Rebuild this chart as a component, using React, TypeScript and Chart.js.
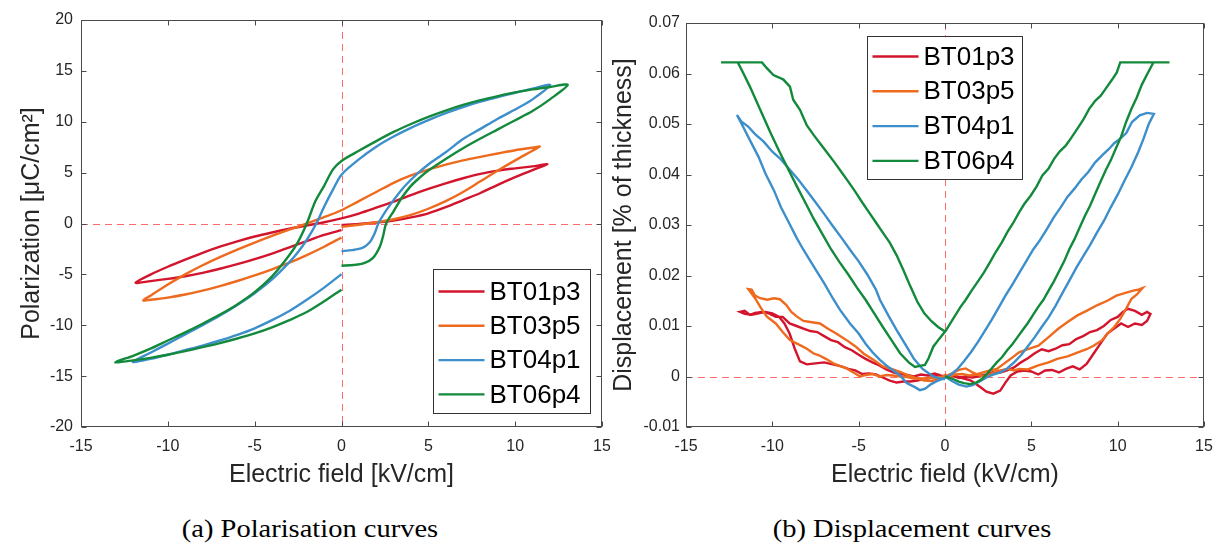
import React, { useEffect, useRef } from 'react';
import { Chart, registerables } from 'chart.js';

Chart.register(...registerables);

// ---------- shared ----------
const seriesNames = ['BT01p3', 'BT03p5', 'BT04p1', 'BT06p4'];
const seriesColors = ['#D2152D', '#EE6A1E', '#3D8FCB', '#138A3B'];
const xTicks = [-15, -10, -5, 0, 5, 10, 15];
const polTicks = [-20, -15, -10, -5, 0, 5, 10, 15, 20];
const dispTicks = [-0.01, 0, 0.01, 0.02, 0.03, 0.04, 0.05, 0.06, 0.07];

const xTitleA = 'Electric field [kV/cm]';
const yTitleA = 'Polarization [μC/cm²]';
const xTitleB = 'Electric field (kV/cm)';
const yTitleB = 'Displacement [% of thickness]';
const captionA = '(a) Polarisation curves';
const captionB = '(b) Displacement curves';

// ---------- (a) polarisation loops: [E kV/cm, P µC/cm²] ----------
const polBT01p3: number[][] = [
  [0, -0.15], [1, -0.05], [2, 0.1], [3, 0.3], [4, 0.6], [5, 1.0], [6, 1.6], [7, 2.3], [8, 3.0], [9, 3.8], [10, 4.55], [11, 5.25], [11.86, 5.82],
  [11, 5.62], [10, 5.42], [9, 5.2], [8, 4.88], [7, 4.45], [6, 3.95], [5, 3.4], [4, 2.8], [3, 2.15], [2, 1.55], [1, 0.98], [0, 0.5],
  [-1, 0.12], [-2, -0.2], [-3, -0.52], [-4, -0.88], [-5, -1.28], [-6, -1.75], [-7, -2.28], [-8, -2.88], [-9, -3.55], [-10, -4.25], [-11, -5.02], [-11.86, -5.82],
  [-11, -5.66], [-10, -5.44], [-9, -5.18], [-8, -4.85], [-7, -4.45], [-6, -4.0], [-5, -3.5], [-4, -2.95], [-3, -2.35], [-2, -1.72], [-1, -1.12], [0, -0.65],
];
const polBT03p5: number[][] = [
  [0, -0.33], [1, -0.12], [2, 0.12], [3, 0.42], [4, 0.85], [5, 1.45], [6, 2.2], [7, 3.1], [8, 4.15], [9, 5.2], [10, 6.2], [11, 7.15], [11.42, 7.56],
  [11, 7.45], [10, 7.2], [9, 6.88], [8, 6.55], [7, 6.2], [6, 5.78], [5, 5.3], [4, 4.72], [3, 4.0], [2, 3.1], [1, 2.2], [0, 1.3],
  [-1, 0.62], [-2, 0.0], [-3, -0.6], [-4, -1.22], [-5, -1.87], [-6, -2.56], [-7, -3.3], [-8, -4.1], [-9, -5.0], [-10, -6.0], [-11, -7.1], [-11.42, -7.56],
  [-11, -7.5], [-10, -7.28], [-9, -6.98], [-8, -6.6], [-7, -6.15], [-6, -5.65], [-5, -5.1], [-4, -4.5], [-3, -3.85], [-2, -3.1], [-1, -2.28], [0, -1.37],
];
const polBT04p1: number[][] = [
  [0, -2.72], [0.6, -2.62], [1.2, -2.4], [1.6, -1.9], [1.9, -1.0], [2.12, 0], [2.5, 1.1], [3.0, 2.3], [3.5, 3.4], [4.0, 4.3], [4.5, 5.1], [5, 5.8], [6, 7.0], [7, 8.3], [8, 9.3], [9, 10.3], [10, 11.2], [11, 12.2], [12.02, 13.6],
  [11, 13.25], [10, 12.85], [9, 12.42], [8, 11.98], [7, 11.45], [6, 10.85], [5, 10.15], [4, 9.4], [3, 8.55], [2, 7.55], [1, 6.3], [0, 4.8],
  [-0.5, 3.3], [-1, 1.65], [-1.45, 0], [-2, -1.6], [-2.5, -2.8], [-3, -3.8], [-4, -5.5], [-5, -6.85], [-6, -8.0], [-7, -9.05], [-8, -10.0], [-9, -10.9], [-10, -11.8], [-11, -12.7], [-12.02, -13.6],
  [-11, -13.3], [-10, -12.9], [-9, -12.45], [-8, -12.0], [-7, -11.5], [-6, -10.95], [-5, -10.3], [-4, -9.5], [-3, -8.6], [-2, -7.5], [-1, -6.3], [0, -4.98],
];
const polBT06p4: number[][] = [
  [0, -4.15], [0.7, -4.08], [1.3, -3.9], [1.8, -3.4], [2.2, -2.3], [2.4, -1.2], [2.57, 0], [3.0, 1.2], [3.5, 2.6], [4, 3.7], [4.5, 4.5], [5, 5.2], [6, 6.35], [7, 7.4], [8, 8.35], [9, 9.25], [10, 10.15], [11, 11.05], [12, 12.2], [13.03, 13.63],
  [12, 13.42], [11, 13.18], [10, 12.88], [9, 12.52], [8, 12.12], [7, 11.65], [6, 11.1], [5, 10.48], [4, 9.78], [3, 9.0], [2, 8.1], [1, 7.15], [0, 6.15],
  [-0.5, 5.3], [-1, 3.7], [-1.5, 2.2], [-2, 0], [-2.5, -1.8], [-3, -3.1], [-4, -5.2], [-5, -6.75], [-6, -7.95], [-7, -8.95], [-8, -9.85], [-9, -10.7], [-10, -11.5], [-11, -12.3], [-12, -13.0], [-13.03, -13.63],
  [-12, -13.45], [-11, -13.2], [-10, -12.9], [-9, -12.55], [-8, -12.15], [-7, -11.75], [-6, -11.3], [-5, -10.8], [-4, -10.2], [-3, -9.5], [-2, -8.7], [-1, -7.65], [0, -6.5],
];

// ---------- (b) displacement butterflies: [E kV/cm, D % of thickness] ----------
const dispBT01p3: number[][] = [
  [0, 0], [0.5, 0.0002], [1.0, -0.0003], [1.5, -0.0008], [2.0, -0.002], [2.4, -0.003], [2.8, -0.0034], [3.2, -0.0028], [3.5, -0.0012], [3.8, 0.0002], [4.2, 0.001], [4.6, 0.0012], [5.0, 0.001], [5.4, 0.0004], [5.8, 0.0012], [6.2, 0.0013], [6.6, 0.0008], [7.0, 0.0015], [7.4, 0.002], [7.8, 0.0014], [8.2, 0.0025], [8.6, 0.0045], [9.0, 0.0065], [9.4, 0.0085], [9.8, 0.0095], [10.2, 0.0105], [10.6, 0.0098], [11.0, 0.0105], [11.4, 0.0102], [11.7, 0.011], [11.9, 0.0124],
  [11.7, 0.0128], [11.4, 0.0122], [11.0, 0.013], [10.6, 0.0134], [10.3, 0.0128], [10.0, 0.0118], [9.6, 0.0112], [9.2, 0.01], [8.8, 0.0092], [8.4, 0.0088], [8.0, 0.008], [7.6, 0.0074], [7.2, 0.0064], [6.8, 0.0062], [6.4, 0.0055], [6.0, 0.005], [5.6, 0.0054], [5.2, 0.0046], [4.8, 0.0036], [4.4, 0.0028], [4.0, 0.0018], [3.6, 0.0012], [3.2, 0.0008], [2.8, 0.0009], [2.4, 0.0004], [2.0, 0.0001], [1.6, -0.0002], [1.2, 0.0], [0.8, -0.0003], [0.4, 0.0002], [0, -0.0001],
  [-0.4, 0.0004], [-0.8, -0.0002], [-1.2, -0.0005], [-1.6, -0.0008], [-2.0, -0.001], [-2.4, -0.001], [-2.8, -0.0012], [-3.2, -0.0008], [-3.6, -0.0002], [-4.0, 0.0004], [-4.4, 0.0006], [-4.8, 0.0005], [-5.2, 0.0012], [-5.6, 0.0015], [-6.0, 0.002], [-6.5, 0.0024], [-7.0, 0.0028], [-7.5, 0.0026], [-8.0, 0.0024], [-8.4, 0.003], [-8.7, 0.0055], [-9.0, 0.0085], [-9.3, 0.0105], [-9.6, 0.0118], [-10.0, 0.0125], [-10.4, 0.0128], [-10.8, 0.0125], [-11.2, 0.0122], [-11.6, 0.0124], [-11.87, 0.0128],
  [-11.6, 0.013], [-11.3, 0.0122], [-11.0, 0.0126], [-10.6, 0.0128], [-10.2, 0.0125], [-9.8, 0.0118], [-9.4, 0.0118], [-9.0, 0.0105], [-8.6, 0.01], [-8.2, 0.0095], [-7.8, 0.009], [-7.4, 0.0088], [-7.0, 0.008], [-6.6, 0.0072], [-6.2, 0.0068], [-5.8, 0.0058], [-5.4, 0.0052], [-5.0, 0.0043], [-4.6, 0.0035], [-4.2, 0.0028], [-3.8, 0.0022], [-3.4, 0.0014], [-3.0, 0.0008], [-2.6, 0.0005], [-2.2, 0.0003], [-1.8, 0.0], [-1.4, 0.0004], [-1.0, 0.0002], [-0.6, 0.0006], [-0.3, 0.0002], [0, 0.0],
];
const dispBT03p5: number[][] = [
  [0, 0], [0.4, 0.0006], [0.8, 0.0013], [1.2, 0.0016], [1.6, 0.0008], [2.0, 0.0002], [2.4, 0.0], [2.8, 0.0008], [3.2, 0.0012], [3.6, 0.0015], [4.0, 0.0012], [4.3, 0.0015], [4.8, 0.0014], [5.4, 0.0022], [6.0, 0.0028], [6.5, 0.0035], [7.1, 0.004], [7.7, 0.0048], [8.2, 0.0054], [8.6, 0.0061], [9.1, 0.0072], [9.5, 0.0088], [9.8, 0.0098], [10.15, 0.0114], [10.5, 0.0135], [10.8, 0.0154], [11.1, 0.0162], [11.44, 0.0175],
  [11.2, 0.0172], [10.9, 0.017], [10.4, 0.0165], [9.93, 0.016], [9.4, 0.015], [8.8, 0.0141], [8.2, 0.013], [7.67, 0.0121], [7.1, 0.0108], [6.54, 0.0094], [6.0, 0.0078], [5.41, 0.0061], [4.8, 0.0054], [4.29, 0.0048], [3.8, 0.0035], [3.4, 0.0025], [3.0, 0.0015], [2.6, 0.0012], [2.2, 0.0008], [1.8, 0.0004], [1.4, 0.0002], [1.0, 0.0005], [0.6, 0.0004], [0.3, 0.0001], [0, 0.0003],
  [-0.4, -0.0006], [-0.8, -0.0009], [-1.2, -0.0008], [-1.6, -0.0004], [-1.84, -0.0004], [-2.2, -0.0001], [-2.6, 0.0], [-3.0, 0.0002], [-3.38, 0.0003], [-3.8, 0.0], [-4.2, 0.0005], [-4.6, 0.0003], [-4.92, 0.0], [-5.3, 0.0008], [-5.7, 0.0016], [-6.1, 0.0021], [-6.47, 0.0026], [-6.9, 0.0035], [-7.3, 0.0042], [-7.63, 0.0046], [-8.0, 0.0055], [-8.4, 0.0062], [-8.98, 0.0072], [-9.4, 0.0088], [-9.8, 0.0105], [-10.33, 0.0119], [-10.7, 0.0138], [-11.0, 0.0155], [-11.39, 0.0173],
  [-11.2, 0.0172], [-11.0, 0.016], [-10.7, 0.0155], [-10.3, 0.0152], [-9.9, 0.0155], [-9.56, 0.0153], [-9.2, 0.0142], [-8.9, 0.0128], [-8.59, 0.0119], [-8.2, 0.011], [-7.8, 0.0108], [-7.24, 0.0105], [-6.8, 0.0095], [-6.3, 0.0085], [-5.7, 0.0072], [-5.2, 0.006], [-4.7, 0.0045], [-4.15, 0.0033], [-3.6, 0.002], [-3.1, 0.0015], [-2.61, 0.0009], [-2.1, 0.0002], [-1.6, -0.0004], [-1.07, -0.0004], [-0.6, -0.0002], [0, 0.0],
];
const dispBT04p1: number[][] = [
  [0, 0], [0.4, -0.0009], [0.8, -0.0016], [1.25, -0.002], [1.6, -0.0017], [2.0, -0.001], [2.4, -0.0002], [2.8, 0.0004], [3.2, 0.0008], [3.6, 0.0016], [4.0, 0.0028], [4.4, 0.0042], [4.8, 0.006], [5.2, 0.0078], [5.6, 0.0098], [6.0, 0.0117], [6.4, 0.014], [6.8, 0.0165], [7.2, 0.019], [7.6, 0.0215], [8.0, 0.0238], [8.4, 0.026], [8.8, 0.0285], [9.2, 0.0308], [9.6, 0.0335], [10.0, 0.036], [10.4, 0.0388], [10.8, 0.0415], [11.2, 0.0445], [11.5, 0.0471], [11.8, 0.05], [12.1, 0.052],
  [11.7, 0.0522], [11.28, 0.0517], [10.83, 0.0504], [10.5, 0.0482], [10.15, 0.0471], [9.8, 0.0462], [9.48, 0.045], [9.1, 0.0438], [8.7, 0.0424], [8.3, 0.0405], [7.9, 0.039], [7.5, 0.0372], [7.1, 0.0356], [6.7, 0.0335], [6.3, 0.0315], [5.9, 0.0292], [5.5, 0.027], [5.1, 0.0251], [4.7, 0.0228], [4.3, 0.0205], [3.9, 0.0182], [3.5, 0.016], [3.1, 0.0136], [2.7, 0.0112], [2.3, 0.009], [1.9, 0.0068], [1.5, 0.0048], [1.1, 0.003], [0.7, 0.0014], [0.35, 0.0004], [0, -0.0003],
  [-0.4, -0.0008], [-0.8, -0.0015], [-1.15, -0.0024], [-1.45, -0.0027], [-1.8, -0.002], [-2.22, -0.0013], [-2.6, 0.0002], [-3.0, 0.0012], [-3.4, 0.0022], [-3.77, 0.0033], [-4.2, 0.0048], [-4.6, 0.0065], [-5.0, 0.0085], [-5.5, 0.0105], [-6.08, 0.0132], [-6.5, 0.0155], [-7.0, 0.0185], [-7.5, 0.0212], [-8.2, 0.0251], [-8.6, 0.0275], [-9.0, 0.0302], [-9.5, 0.0335], [-9.9, 0.0368], [-10.4, 0.0402], [-10.8, 0.0435], [-11.3, 0.0468], [-11.7, 0.0495], [-12.05, 0.0518],
  [-11.8, 0.0505], [-11.4, 0.0495], [-11.0, 0.048], [-10.5, 0.0465], [-10.0, 0.0445], [-9.5, 0.043], [-9.0, 0.041], [-8.5, 0.039], [-8.0, 0.0368], [-7.5, 0.0345], [-7.0, 0.0322], [-6.5, 0.0298], [-6.0, 0.0275], [-5.5, 0.0251], [-5.0, 0.0228], [-4.5, 0.0202], [-4.0, 0.0172], [-3.77, 0.0152], [-3.3, 0.0122], [-2.8, 0.0092], [-2.22, 0.0059], [-1.8, 0.0035], [-1.3, 0.0015], [-0.68, 0.0], [-0.3, -0.0004], [0, -0.0005],
];
const dispBT06p4: number[][] = [
  [0, 0], [0.4, -0.0004], [0.8, -0.001], [1.1, -0.0013], [1.45, -0.0015], [1.8, -0.0012], [2.1, -0.0006], [2.4, 0.0004], [2.7, 0.0016], [3.0, 0.0028], [3.3, 0.0038], [3.6, 0.0052], [3.9, 0.0064], [4.2, 0.0078], [4.5, 0.0092], [4.8, 0.0106], [5.1, 0.0122], [5.4, 0.0138], [5.7, 0.0152], [6.0, 0.017], [6.3, 0.0188], [6.6, 0.0208], [6.9, 0.0228], [7.2, 0.0252], [7.5, 0.0272], [7.8, 0.0295], [8.1, 0.0318], [8.4, 0.0338], [8.7, 0.0362], [9.0, 0.0385], [9.3, 0.0408], [9.6, 0.0428], [9.9, 0.0452], [10.2, 0.0475], [10.5, 0.0505], [10.8, 0.053], [11.1, 0.0552], [11.4, 0.0578], [11.7, 0.0598], [12.07, 0.0622], [13.0, 0.0622],
  [10.15, 0.0622], [9.95, 0.0602], [9.7, 0.0589], [9.35, 0.0572], [9.02, 0.0556], [8.7, 0.0546], [8.35, 0.053], [8.0, 0.0508], [7.67, 0.0491], [7.3, 0.0472], [6.99, 0.0457], [6.65, 0.0446], [6.32, 0.0431], [6.0, 0.0412], [5.64, 0.0398], [5.3, 0.0376], [4.96, 0.0358], [4.6, 0.0342], [4.29, 0.0325], [3.95, 0.0304], [3.61, 0.0286], [3.3, 0.0266], [2.93, 0.0246], [2.6, 0.0226], [2.26, 0.0206], [1.9, 0.0188], [1.58, 0.0172], [1.2, 0.0152], [0.9, 0.0138], [0.45, 0.0113], [0.05, 0.0091],
  [-0.35, 0.0074], [-0.68, 0.0059], [-0.95, 0.0036], [-1.16, 0.0023], [-1.45, 0.0021], [-1.74, 0.0019], [-2.1, 0.0028], [-2.6, 0.0046], [-3.1, 0.0072], [-3.6, 0.0098], [-4.1, 0.0125], [-4.6, 0.0152], [-5.1, 0.0176], [-5.6, 0.0202], [-6.1, 0.0226], [-6.6, 0.0252], [-7.1, 0.0282], [-7.6, 0.0312], [-8.1, 0.0345], [-8.6, 0.0378], [-9.1, 0.0412], [-9.6, 0.0446], [-10.1, 0.0482], [-10.7, 0.0528], [-11.3, 0.0574], [-11.7, 0.0602], [-12.0, 0.0622], [-12.97, 0.0622],
  [-10.6, 0.0622], [-10.33, 0.0611], [-9.94, 0.0597], [-9.6, 0.0592], [-9.36, 0.0588], [-8.98, 0.0574], [-8.79, 0.0548], [-8.4, 0.0528], [-8.0, 0.0497], [-7.6, 0.0478], [-7.2, 0.046], [-6.8, 0.0442], [-6.4, 0.0424], [-6.0, 0.0405], [-5.6, 0.0386], [-5.2, 0.0366], [-4.8, 0.0345], [-4.4, 0.0325], [-4.0, 0.0305], [-3.6, 0.0285], [-3.2, 0.0265], [-2.8, 0.024], [-2.4, 0.021], [-2.0, 0.0178], [-1.6, 0.0148], [-1.2, 0.0125], [-0.8, 0.011], [-0.4, 0.0098], [0, 0.0089],
];

const polSeries = [polBT01p3, polBT03p5, polBT04p1, polBT06p4];
const dispSeries = [dispBT01p3, dispBT03p5, dispBT04p1, dispBT06p4];

const SANS = '"Liberation Sans", Arial, Helvetica, sans-serif';
const TEXT_GRAY = '#262626';

// plugin: dashed zero lines, inward-tick box frame, boxed legend
const decorPlugin = {
  id: 'decor',
  beforeDatasetsDraw(chart: any) {
    const { ctx, chartArea: a, scales } = chart;
    const x0 = Math.round(scales.x.getPixelForValue(0)) + 0.5;
    const y0 = Math.round(scales.y.getPixelForValue(0)) + 0.5;
    ctx.save();
    ctx.strokeStyle = 'rgba(255,80,80,0.85)';
    ctx.lineWidth = 1;
    ctx.setLineDash([7, 5]);
    ctx.beginPath();
    ctx.moveTo(x0, a.top);
    ctx.lineTo(x0, a.bottom);
    ctx.moveTo(a.left, y0);
    ctx.lineTo(a.right, y0);
    ctx.stroke();
    ctx.restore();
  },
  afterDatasetsDraw(chart: any, _args: any, opts: any) {
    const { ctx, chartArea: a, scales } = chart;
    const L = Math.round(a.left) + 0.5;
    const R = Math.round(a.right) - 0.5;
    const T = Math.round(a.top) + 0.5;
    const B = Math.round(a.bottom) - 0.5;
    ctx.save();
    ctx.strokeStyle = '#4a4a4a';
    ctx.lineWidth = 1;
    ctx.setLineDash([]);
    ctx.strokeRect(L, T, R - L, B - T);
    ctx.beginPath();
    const tl = 5;
    for (const t of scales.x.ticks) {
      const px = Math.round(scales.x.getPixelForValue(t.value)) + 0.5;
      ctx.moveTo(px, B); ctx.lineTo(px, B - tl);
      ctx.moveTo(px, T); ctx.lineTo(px, T + tl);
    }
    for (const t of scales.y.ticks) {
      const py = Math.round(scales.y.getPixelForValue(t.value)) + 0.5;
      ctx.moveTo(L, py); ctx.lineTo(L + tl, py);
      ctx.moveTo(R, py); ctx.lineTo(R - tl, py);
    }
    ctx.stroke();

    // legend box
    const bx = Math.round(a.left + opts.bx) + 0.5;
    const by = Math.round(a.top + opts.by) + 0.5;
    ctx.fillStyle = '#ffffff';
    ctx.fillRect(bx, by, opts.bw, opts.bh);
    ctx.strokeStyle = '#333333';
    ctx.strokeRect(bx, by, opts.bw, opts.bh);
    ctx.font = `26px ${SANS}`;
    ctx.textBaseline = 'middle';
    ctx.textAlign = 'left';
    chart.data.datasets.forEach((ds: any, i: number) => {
      const cy = by + opts.first + i * opts.step;
      ctx.strokeStyle = ds.borderColor;
      ctx.lineWidth = 2.4;
      ctx.beginPath();
      ctx.moveTo(bx + 5, cy);
      ctx.lineTo(bx + 51, cy);
      ctx.stroke();
      ctx.fillStyle = '#000000';
      ctx.fillText(ds.label, bx + 56, cy + 1);
    });
    ctx.restore();
  },
};

function makeDatasets(series: number[][][], tension: number) {
  return series.map((pts, i) => ({
    label: seriesNames[i],
    data: pts.map(([x, y]) => ({ x, y })),
    borderColor: seriesColors[i],
    backgroundColor: seriesColors[i],
    borderWidth: 2.4,
    pointRadius: 0,
    showLine: true,
    fill: false,
    tension,
    order: series.length - i,
  }));
}

function makeConfig(opts: {
  series: number[][][];
  tension: number;
  yTicks: number[];
  yMin: number;
  yMax: number;
  yFmt: (v: number) => string;
  xTitle: string;
  yTitle: string;
  yScaleWidth: number;
  yTickPad: number;
  yTitlePad: number;
  padTop: number;
  padRight: number;
  legend: any;
}) {
  return {
    type: 'scatter' as const,
    data: { datasets: makeDatasets(opts.series, opts.tension) },
    options: {
      responsive: false,
      animation: false,
      events: [],
      layout: { padding: { top: opts.padTop, right: opts.padRight, left: 0, bottom: 0 } },
      plugins: {
        legend: { display: false },
        tooltip: { enabled: false },
        decor: opts.legend,
      },
      scales: {
        x: {
          type: 'linear',
          min: -15,
          max: 15,
          afterBuildTicks: (s: any) => { s.ticks = xTicks.map((v) => ({ value: v })); },
          afterFit: (s: any) => { s.height = 73; s.paddingLeft = 0; s.paddingRight = 0; },
          ticks: {
            font: { family: SANS, size: 16 },
            color: TEXT_GRAY,
            padding: 10,
            maxRotation: 0,
            autoSkip: false,
            callback: (v: any) => String(v),
          },
          grid: { display: false, drawTicks: false },
          border: { display: false },
          title: {
            display: true,
            text: opts.xTitle,
            font: { family: SANS, size: 25 },
            color: TEXT_GRAY,
            padding: { top: 0, bottom: 10 },
          },
        },
        y: {
          type: 'linear',
          min: opts.yMin,
          max: opts.yMax,
          afterBuildTicks: (s: any) => { s.ticks = opts.yTicks.map((v) => ({ value: v })); },
          afterFit: (s: any) => { s.width = opts.yScaleWidth; s.paddingTop = 0; s.paddingBottom = 0; },
          ticks: {
            font: { family: SANS, size: 16 },
            color: TEXT_GRAY,
            padding: opts.yTickPad,
            autoSkip: false,
            callback: (v: any) => opts.yFmt(Number(v)),
          },
          grid: { display: false, drawTicks: false },
          border: { display: false },
          title: {
            display: true,
            text: opts.yTitle,
            font: { family: SANS, size: 25 },
            color: TEXT_GRAY,
            padding: { top: opts.yTitlePad, bottom: 0 },
          },
        },
      },
    },
    plugins: [decorPlugin],
  };
}

export default function App() {
  const leftRef = useRef<HTMLCanvasElement>(null);
  const rightRef = useRef<HTMLCanvasElement>(null);

  useEffect(() => {
    const cfgA = makeConfig({
      series: polSeries,
      tension: 0.3,
      yTicks: polTicks,
      yMin: -20,
      yMax: 20,
      yFmt: (v) => String(v),
      xTitle: xTitleA,
      yTitle: yTitleA,
      yScaleWidth: 81,
      yTickPad: 8,
      yTitlePad: 17,
      padTop: 20,
      padRight: 8,
      legend: { bx: 352, by: 249, bw: 157, bh: 144, first: 22, step: 34.3 },
    });
    const cfgB = makeConfig({
      series: dispSeries,
      tension: 0,
      yTicks: dispTicks,
      yMin: -0.01,
      yMax: 0.07,
      yFmt: (v) => {
        const r = Math.round(v * 100) / 100;
        return r === 0 ? '0' : r.toFixed(2);
      },
      xTitle: xTitleB,
      yTitle: yTitleB,
      yScaleWidth: 76,
      yTickPad: 6,
      yTitlePad: -1,
      padTop: 23,
      padRight: 16,
      legend: { bx: 181, by: 13, bw: 155, bh: 143, first: 20, step: 34.8 },
    });
    const c1 = new Chart(leftRef.current as HTMLCanvasElement, cfgA as any);
    const c2 = new Chart(rightRef.current as HTMLCanvasElement, cfgB as any);
    return () => {
      c1.destroy();
      c2.destroy();
    };
  }, []);

  const capStyle: React.CSSProperties = {
    position: 'absolute',
    top: 516,
    width: 400,
    textAlign: 'center',
    fontFamily: '"Liberation Serif", "Times New Roman", Times, serif',
    fontSize: 25,
    lineHeight: '25px',
    color: '#000',
    whiteSpace: 'nowrap',
    transform: 'scaleX(1.14)',
  };

  return (
    <div style={{ position: 'absolute', left: 0, top: 0, width: 1220, height: 543, background: '#fff', overflow: 'hidden' }}>
      <canvas ref={leftRef} width={610} height={500} style={{ position: 'absolute', left: 0, top: 0, width: 610, height: 500 }} />
      <canvas ref={rightRef} width={610} height={500} style={{ position: 'absolute', left: 610, top: 0, width: 610, height: 500 }} />
      <div style={{ ...capStyle, left: 310 - 200 }}>{captionA}</div>
      <div style={{ ...capStyle, left: 912 - 200 }}>{captionB}</div>
    </div>
  );
}
